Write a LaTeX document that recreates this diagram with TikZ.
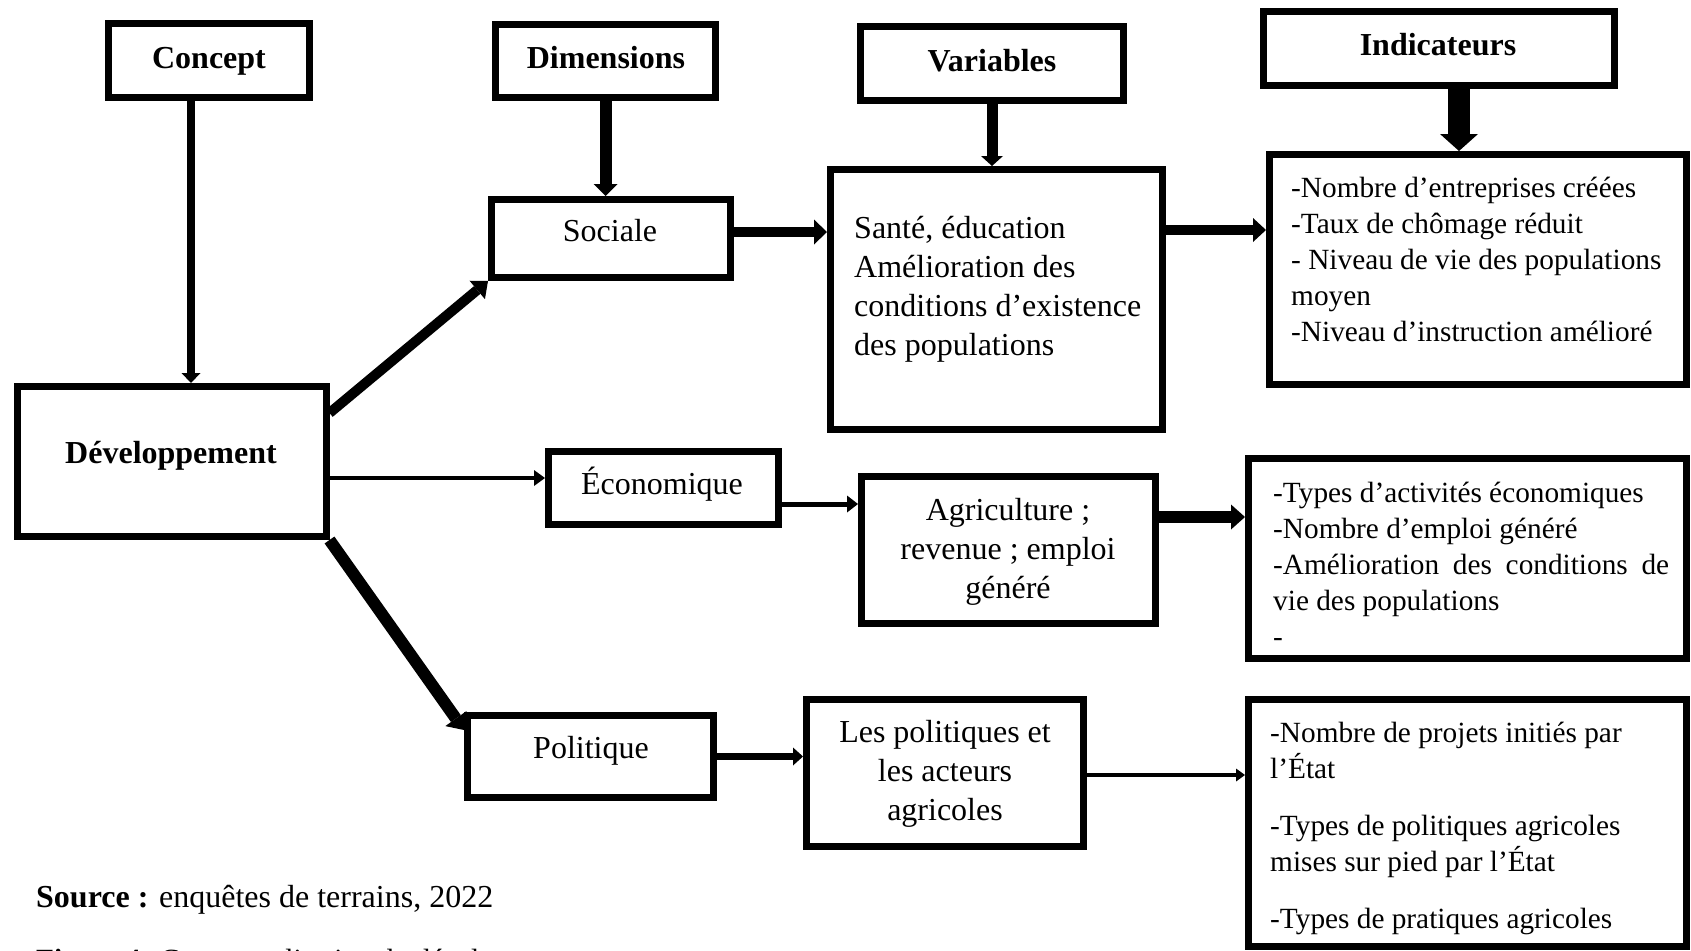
\documentclass[tikz,border=0pt]{standalone}
\usepackage{fontspec}
\setmainfont{Liberation Serif}
\usetikzlibrary{arrows.meta,calc}
\begin{document}
\begin{tikzpicture}[x=1pt,y=-1pt,
  box/.style={draw=black, line width=7pt, inner sep=0pt},
  ttl/.style={inner sep=0pt, anchor=base, font=\fontsize{32}{39}\selectfont\bfseries},
  lbl/.style={inner sep=0pt, anchor=base, font=\fontsize{32}{39}\selectfont},
  para/.style={inner sep=0pt, anchor=base west, font=\fontsize{32}{39}\selectfont},
  ipara/.style={inner sep=0pt, anchor=base west, font=\fontsize{29.3}{36}\selectfont},
  cpara/.style={inner sep=0pt, anchor=base, font=\fontsize{32}{39}\selectfont},
  conn/.style args={#1/#2/#3}{draw=black, line width=#1pt, -{Triangle[length=#2pt,width=#3pt,line width=0pt]}}
]
\useasboundingbox (0,0) rectangle (1691,950);
\clip (0,0) rectangle (1691,950);
\fill[white] (0,0) rectangle (1691,950);

% header boxes
\node[box, minimum width=201pt, minimum height=74pt] (concept) at (209,60.5) {};
\node[box, minimum width=220pt, minimum height=73pt] (dims) at (605.5,61) {};
\node[box, minimum width=263pt, minimum height=74pt] (variables) at (992,63.5) {};
\node[box, minimum width=351pt, minimum height=74pt] (indicateurs) at (1439,48.5) {};
\node[ttl] (conceptT) at (209,68) {Concept};
\node[ttl] (dimsT) at (606,68) {Dimensions};
\node[ttl] (variablesT) at (992,71) {Variables};
\node[ttl] (indicateursT) at (1438,56) {Indicateurs};

% concept and dimensions
\node[box, minimum width=309pt, minimum height=150pt] (dev) at (171.5,461.5) {};
\node[ttl] (devT) at (171,463) {Développement};
\node[box, minimum width=239pt, minimum height=78pt] (sociale) at (611,238.5) {};
\node[lbl] (socialeT) at (610,241) {Sociale};
\node[box, minimum width=230pt, minimum height=73pt] (eco) at (663.5,488) {};
\node[lbl] (ecoT) at (662,494) {Économique};
\node[box, minimum width=246pt, minimum height=82pt] (politique) at (590.5,756.5) {};
\node[lbl] (politiqueT) at (591,758) {Politique};

% variables
\node[box, minimum width=332pt, minimum height=260pt] (varbox) at (996.5,299.5) {};
\node[para] (varboxT) at (854,238) {\begin{tabular}[t]{@{}l@{}}Santé, éducation\\ Amélioration des\\ conditions d’existence\\ des populations\end{tabular}};
\node[box, minimum width=294pt, minimum height=147pt] (agri) at (1008.5,550) {};
\node[cpara] (agriT) at (1008,520) {\begin{tabular}[t]{@{}c@{}}Agriculture ;\\ revenue ; emploi\\ généré\end{tabular}};
\node[box, minimum width=277pt, minimum height=147pt] (lespol) at (945,773) {};
\node[cpara] (lespolT) at (945,742) {\begin{tabular}[t]{@{}c@{}}Les politiques et\\ les acteurs\\ agricoles\end{tabular}};

% indicators
\node[box, minimum width=417pt, minimum height=230pt] (ind1) at (1478,269.5) {};
\node[ipara] (ind1T) at (1291,197) {\begin{tabular}[t]{@{}l@{}}-Nombre d’entreprises créées\\ -Taux de chômage réduit\\ - Niveau de vie des populations\\ moyen\\ -Niveau d’instruction amélioré\end{tabular}};
\node[box, minimum width=438pt, minimum height=200pt] (ind2) at (1467.5,558.5) {};
\node[ipara] (ind2T) at (1273,502) {\begin{tabular}[t]{@{}l@{}}-Types d’activités économiques\\ -Nombre d’emploi généré\\ \makebox[396pt][s]{-Amélioration des conditions de}\\ vie des populations\\ -\end{tabular}};
\node[box, minimum width=438pt, minimum height=247pt] (ind3) at (1467.5,823) {};
\node[ipara] (ind3T) at (1270,742) {\begin{tabular}[t]{@{}l@{}}-Nombre de projets initiés par\\ l’État\\[21pt] -Types de politiques agricoles\\ mises sur pied par l’État\\[21pt] -Types de pratiques agricoles\end{tabular}};

% source
\node[para] (src) at (36,907) {\textbf{Source :} enquêtes de terrains, 2022};
\node[ipara] (fig) at (36,969) {\textbf{Figure 4:} Conceptualisation du développement};

% connectors
\draw[conn=8/10/19] ([xshift=-18pt]concept.south) -- ([xshift=19.5pt]dev.north);
\draw[conn=12/12/24] (dims.south) -- (dims.south |- sociale.north);
\draw[conn=11/10/22] (variables.south) -- (variables.south |- varbox.north);
\draw[conn=22/17/38] ([xshift=20pt]indicateurs.south) -- ([xshift=20pt]indicateurs.south |- ind1.north);
\draw[conn=10/14/24] ([yshift=-30pt]dev.north east) -- (sociale.south west);
\draw[conn=4/11/16] ([yshift=-16.5pt]dev.east) -- ([yshift=-16.5pt]dev.east -| eco.west);
\draw[conn=12/14/26] (dev.south east) -- ([yshift=26.5pt]politique.west);
\draw[conn=10/13/25] ([yshift=6.5pt]sociale.east) -- ([yshift=6.5pt]sociale.east -| varbox.west);
\draw[conn=10/13/24] ([yshift=69.5pt]varbox.east) -- ([yshift=69.5pt]varbox.east -| ind1.west);
\draw[conn=5/11/17] ([yshift=-16pt]eco.east) -- ([yshift=-16pt]eco.east -| agri.west);
\draw[conn=12/14/25] ([yshift=33pt]agri.east) -- ([yshift=33pt]agri.east -| ind2.west);
\draw[conn=7/10/18] (politique.east) -- (politique.east -| lespol.west);
\draw[conn=4/9/13] ([yshift=-2pt]lespol.east) -- ([yshift=-2pt]lespol.east -| ind3.west);
\end{tikzpicture}
\end{document}
